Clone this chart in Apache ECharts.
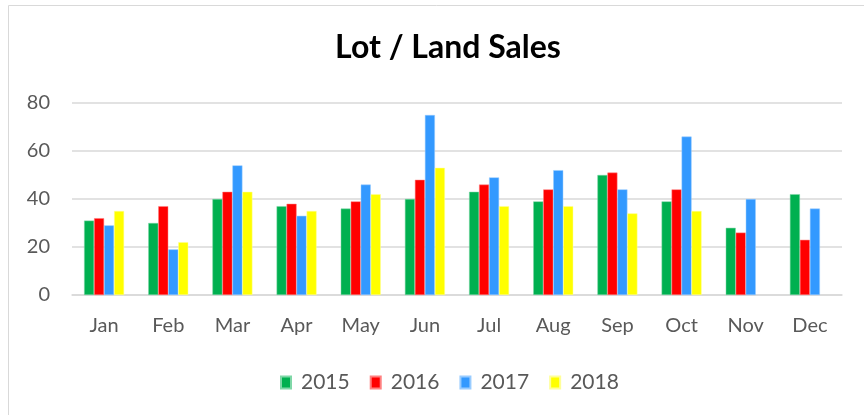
<!DOCTYPE html>
<html>
<head>
<meta charset="utf-8">
<script src="https://cdn.jsdelivr.net/npm/echarts@6/dist/echarts.min.js"></script>
<style>html,body{margin:0;padding:0;background:#fff}#c{width:864px;height:415px}</style>
</head>
<body>
<div id="c"></div>
<script>
var categories = ['Jan','Feb','Mar','Apr','May','Jun','Jul','Aug','Sep','Oct','Nov','Dec'];
var s2015 = [31, 30, 40, 37, 36, 40, 43, 39, 50, 39, 28, 42];
var s2016 = [32, 37, 43, 38, 39, 48, 46, 44, 51, 44, 26, 23];
var s2017 = [29, 19, 54, 33, 46, 75, 49, 52, 44, 66, 40, 36];
var s2018 = [35, 22, 43, 35, 42, 53, 37, 37, 34, 35, null, null];
var seriesNames = ['2015','2016','2017','2018'];
var colors = ['#00B050','#FF0000','#3399FF','#FFFF00'];
var borders = ['#7fd7a7','#ff8080','#99ccff','#ffff99'];

var chart = echarts.init(document.getElementById('c'));
var data = [s2015, s2016, s2017, s2018];
var font = 'Lato, "Open Sans", sans-serif';
chart.setOption({
  animation: false,
  title: {
    text: 'Lot / Land Sales', left: 443, top: 27, textAlign: 'center',
    textStyle: { fontFamily: font, fontSize: 32, fontWeight: 'bold', color: '#000' }
  },
  graphic: [{
    type: 'rect', shape: { x: 8.5, y: 5.5, width: 880, height: 430 },
    style: { fill: 'none', stroke: '#d9d9d9', lineWidth: 1 }, silent: true, z: -1
  }],
  legend: {
    data: seriesNames, top: 367, left: 275,
    itemWidth: 10, itemHeight: 12, itemGap: 20,
    icon: 'rect',
    textStyle: { fontFamily: font, fontSize: 21, color: '#595959', padding: [0, 0, 0, 5] }
  },
  grid: { left: 72, right: 22, top: 103, bottom: 120 },
  xAxis: {
    type: 'category', data: categories,
    axisLine: { lineStyle: { color: '#d9d9d9', width: 1.5 } },
    axisTick: { show: false },
    axisLabel: { fontFamily: font, fontSize: 20, color: '#595959', margin: 21 }
  },
  yAxis: {
    type: 'value', min: 0, max: 80, interval: 20,
    axisLine: { show: false }, axisTick: { show: false },
    splitLine: { lineStyle: { color: '#d9d9d9', width: 1.5 } },
    axisLabel: { fontFamily: font, fontSize: 20, color: '#595959', margin: 22 }
  },
  series: seriesNames.map(function (n, i) {
    return {
      name: n, type: 'bar', data: data[i], barWidth: 10, barGap: '0%',
      itemStyle: { color: colors[i], borderColor: borders[i], borderWidth: 0.5 }
    };
  })
});
</script>
</body>
</html>
